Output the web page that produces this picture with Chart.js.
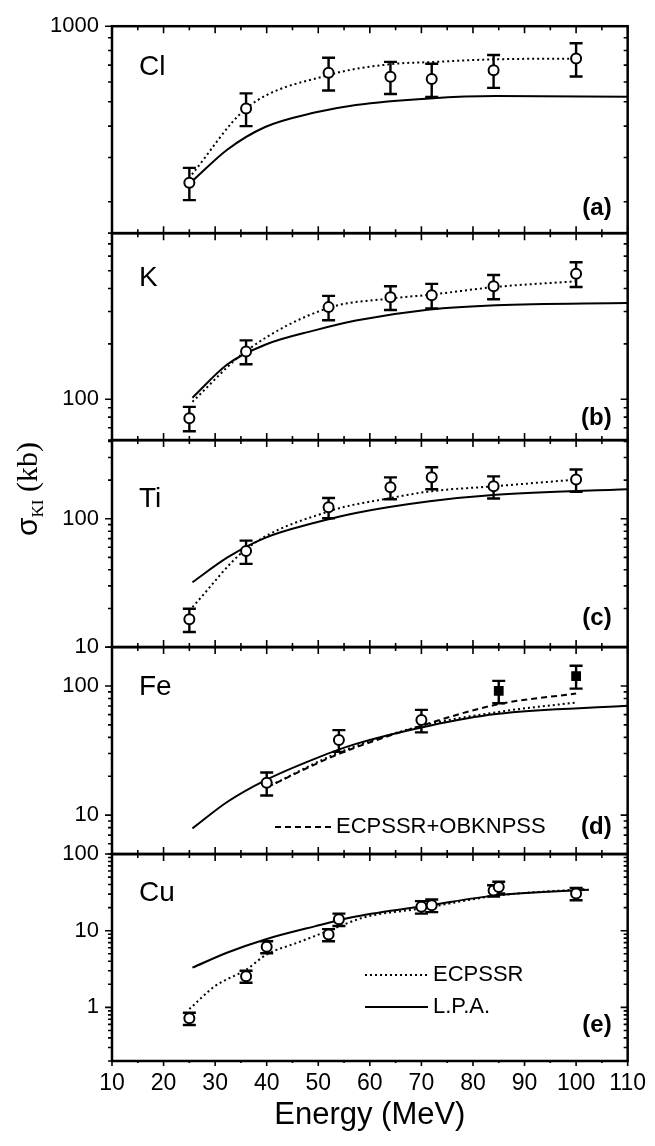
<!DOCTYPE html>
<html>
<head>
<meta charset="utf-8">
<title>K-shell ionization cross sections</title>
<script src="https://cdn.jsdelivr.net/npm/chart.js@4.4.1/dist/chart.umd.min.js"></script>
<style>
  html, body { margin: 0; padding: 0; background: #fff; }
  #wrap { width: 655px; height: 1146px; }
</style>
</head>
<body>
<div id="wrap"><canvas id="sigmaChart" width="655" height="1146"></canvas></div>
<script>
// x axis
const energyTicks = [10, 20, 30, 40, 50, 60, 70, 80, 90, 100, 110];

// (a) Cl
const clEnergy = [25, 36, 52, 64, 72, 84, 100];
const clSigma = [238, 470, 652, 629, 616, 668, 743];
const clErr = [35, 70, 97, 92, 93, 100, 112];
const clEcpssrE = [25.5, 36, 52, 64, 72, 84, 100];
const clEcpssr = [257, 470, 639, 706, 720, 738, 743];
const lpaEnergy = [25.6, 32.4, 39.7, 49.3, 57.3, 71.6, 84.5, 110];
const clLpa = [242, 323, 397, 453, 486, 516, 527, 524];

// (b) K
const kEnergy = [25, 36, 52, 64, 72, 84, 100];
const kSigma = [79, 182, 317, 359, 368, 412, 482];
const kErr = [12, 27, 48, 53, 56, 62, 74];
const kEcpssrE = [25.6, 36, 52, 64, 72, 84, 100];
const kEcpssr = [97, 183, 314, 353, 371, 407, 438];
const kLpa = [102, 155, 198, 237, 268, 308, 325, 334];

// (c) Ti
const tiEnergy = [25, 36, 52, 64, 72, 84, 100];
const tiSigma = [16.5, 56, 123, 176, 211, 179, 202];
const tiErr = [3.4, 11.5, 22, 34, 41, 35, 40];
const tiEcpssrE = [25.6, 36, 52, 64, 72, 84, 100];
const tiEcpssr = [20.5, 58, 114, 145, 164, 179, 202];
const tiLpa = [32, 50, 71, 93, 111, 137, 154, 170];

// (d) Fe
const feEnergy = [40, 54, 70];
const feSigma = [17.8, 38.2, 54.5];
const feErr = [3.6, 7.3, 10.8];
const feNewEnergy = [85, 100];
const feNewSigma = [91.5, 119.4];
const feNewErr = [18, 24];
const feTheoryE = [40, 54, 70, 85, 100];
const feEcpssr = [16.4, 30.5, 49, 63, 74.5];
const feObk = [16.4, 29.8, 49.3, 72.3, 87.4];
const feLpa = [7.9, 12.7, 18.6, 27.3, 35.6, 49.3, 60.6, 70.2];

// (e) Cu
const cuEnergy = [25, 36, 40, 52, 54, 70, 72, 84, 85, 100];
const cuSigma = [0.72, 2.55, 6.18, 8.9, 14.1, 20.5, 21.5, 33.5, 37.1, 30.5];
const cuErr = [0.13, 0.45, 1.1, 1.6, 2.6, 3.8, 4, 5.7, 6.5, 5.5];
const cuEcpssrE = [25, 30, 36, 40, 46, 52, 59, 70, 85, 102];
const cuEcpssr = [0.95, 1.9, 3.1, 4.9, 7, 10, 15, 19.5, 28.9, 35];
const cuLpaE = [25.6, 32.4, 39.7, 49.3, 57.3, 71.6, 84.5, 102.5];
const cuLpa = [3.3, 5.2, 7.7, 11.4, 15.3, 21.5, 28.9, 34.2];

const panels = [
    { id: 'ya', min: 150, max: 1000, name: 'Cl', tag: '(a)', nameDy: 41, tagDy: 25 },
    { id: 'yb', min: 60, max: 800, name: 'K', tag: '(b)', nameDy: 45, tagDy: 22 },
    { id: 'yc', min: 10, max: 410, name: 'Ti', tag: '(c)', nameDy: 59, tagDy: 29 },
    { id: 'yd', min: 5, max: 200, name: 'Fe', tag: '(d)', nameDy: 40, tagDy: 27 },
    { id: 'ye', min: 0.2, max: 100, name: 'Cu', tag: '(e)', nameDy: 39, tagDy: 36 }
];

function pts(xs, ys) {
    return xs.map((x, i) => ({ x: x, y: ys[i] }));
}

function expSet(axis, xs, ys, errs, square) {
    return {
        data: pts(xs, ys), errors: errs, yAxisID: axis, showLine: false,
        pointStyle: square ? 'rect' : 'circle',
        pointRadius: square ? 5.5 : 5,
        pointBackgroundColor: square ? '#000' : '#fff',
        pointBorderColor: '#000', pointBorderWidth: 2, order: 0
    };
}

function curveSet(axis, xs, ys, dash) {
    return {
        data: pts(xs, ys), yAxisID: axis, showLine: true, pointRadius: 0,
        borderColor: '#000', borderWidth: 2, borderDash: dash,
        cubicInterpolationMode: 'monotone', fill: false, order: 1
    };
}

const DOT = [2, 3];
const DASH = [6, 4];

const datasets = [
    expSet('ya', clEnergy, clSigma, clErr),
    curveSet('ya', clEcpssrE, clEcpssr, DOT),
    curveSet('ya', lpaEnergy, clLpa, []),
    expSet('yb', kEnergy, kSigma, kErr),
    curveSet('yb', kEcpssrE, kEcpssr, DOT),
    curveSet('yb', lpaEnergy, kLpa, []),
    expSet('yc', tiEnergy, tiSigma, tiErr),
    curveSet('yc', tiEcpssrE, tiEcpssr, DOT),
    curveSet('yc', lpaEnergy, tiLpa, []),
    expSet('yd', feEnergy, feSigma, feErr),
    expSet('yd', feNewEnergy, feNewSigma, feNewErr, true),
    curveSet('yd', feTheoryE, feEcpssr, DOT),
    curveSet('yd', feTheoryE, feObk, DASH),
    curveSet('yd', lpaEnergy, feLpa, []),
    expSet('ye', cuEnergy, cuSigma, cuErr),
    curveSet('ye', cuEcpssrE, cuEcpssr, DOT),
    curveSet('ye', cuLpaE, cuLpa, [])
];

function isDecade(v) {
    const l = Math.log10(v);
    return Math.abs(l - Math.round(l)) < 1e-6;
}

// Frames, ticks, error bars and panel texts
const panelDecor = {
    id: 'panelDecor',
    beforeDatasetDraw(chart, args) {
        const ds = chart.data.datasets[args.index];
        if (!ds.errors) return;
        const ys = chart.scales[ds.yAxisID];
        const ctx = chart.ctx;
        ctx.save();
        ctx.strokeStyle = '#000';
        ctx.lineWidth = 2.4;
        ds.data.forEach((d, i) => {
            const x = args.meta.data[i].x;
            const top = ys.getPixelForValue(d.y + ds.errors[i]);
            const bot = ys.getPixelForValue(d.y - ds.errors[i]);
            ctx.beginPath();
            ctx.moveTo(x, top); ctx.lineTo(x, bot);
            ctx.moveTo(x - 6.5, top); ctx.lineTo(x + 6.5, top);
            ctx.moveTo(x - 6.5, bot); ctx.lineTo(x + 6.5, bot);
            ctx.stroke();
        });
        ctx.restore();
    },
    afterDatasetsDraw(chart) {
        const ctx = chart.ctx;
        const area = chart.chartArea;
        const xs = chart.scales.x;
        ctx.save();
        ctx.strokeStyle = '#000';
        ctx.fillStyle = '#000';
        panels.forEach((p, n) => {
            const ys = chart.scales[p.id];
            const top = ys.top, bot = ys.bottom;
            ctx.lineWidth = 2.5;
            ctx.strokeRect(area.left, top, area.right - area.left, bot - top);
            ctx.lineWidth = 1.6;
            ctx.beginPath();
            for (let v = 10; v <= 110; v += 5) {
                const px = xs.getPixelForValue(v);
                const len = v % 10 === 0 ? 7 : 4;
                ctx.moveTo(px, top); ctx.lineTo(px, top + len);
                if (n === panels.length - 1) {
                    ctx.moveTo(px, bot); ctx.lineTo(px, bot + (len - 2));
                } else {
                    ctx.moveTo(px, bot); ctx.lineTo(px, bot - len);
                }
            }
            const k0 = Math.floor(Math.log10(p.min)), k1 = Math.ceil(Math.log10(p.max));
            for (let k = k0; k <= k1; k++) {
                for (let m = 1; m <= 9; m++) {
                    const v = m * Math.pow(10, k);
                    if (v < p.min * 0.999 || v > p.max * 1.001) continue;
                    const py = ys.getPixelForValue(v);
                    const len = m === 1 ? 7 : 4;
                    ctx.moveTo(area.left, py); ctx.lineTo(area.left - len, py);
                    ctx.moveTo(area.right, py); ctx.lineTo(area.right - len, py);
                }
            }
            ctx.stroke();

            ctx.textBaseline = 'middle';
            ctx.textAlign = 'left';
            ctx.font = '28px "Liberation Sans", Arial, sans-serif';
            ctx.fillText(p.name, area.left + 27, top + p.nameDy);
            ctx.textAlign = 'right';
            ctx.font = 'bold 24px "Liberation Sans", Arial, sans-serif';
            ctx.fillText(p.tag, area.right - 16, bot - p.tagDy);
        });

        // legends
        const yd = chart.scales.yd, ye = chart.scales.ye;
        ctx.lineWidth = 2;
        ctx.font = '22px "Liberation Sans", Arial, sans-serif';
        ctx.textAlign = 'left';
        const legendRows = [
            { y: yd.bottom - 27, x0: area.left + 163, x1: area.left + 219, dash: DASH, text: 'ECPSSR+OBKNPSS' },
            { y: ye.top + 121, x0: area.left + 253, x1: area.left + 316, dash: DOT, text: 'ECPSSR' },
            { y: ye.top + 153, x0: area.left + 253, x1: area.left + 316, dash: [], text: 'L.P.A.' }
        ];
        legendRows.forEach(r => {
            ctx.setLineDash(r.dash);
            ctx.beginPath();
            ctx.moveTo(r.x0, r.y); ctx.lineTo(r.x1, r.y);
            ctx.stroke();
            ctx.setLineDash([]);
            ctx.fillText(r.text, r.x1 + 5, r.y);
        });

        // y axis title: sigma_KI (kb)
        ctx.translate(37, 536);
        ctx.rotate(-Math.PI / 2);
        ctx.textBaseline = 'alphabetic';
        ctx.textAlign = 'left';
        ctx.font = '30px "Liberation Sans", Arial, sans-serif';
        ctx.fillText('σ', 0, 0);
        let w = ctx.measureText('σ').width;
        ctx.font = '17px "Liberation Serif", "Times New Roman", serif';
        ctx.fillText('KI', w, 6);
        w += ctx.measureText('KI').width;
        ctx.font = '30px "Liberation Serif", "Times New Roman", serif';
        ctx.fillText(' (kb)', w, 0);
        ctx.restore();
    }
};

Chart.defaults.font.family = '"Liberation Sans", Arial, sans-serif';
Chart.defaults.color = '#000';

const yScales = {};
panels.forEach((p, n) => {
    yScales[p.id] = {
        type: 'logarithmic', position: 'left', stack: 'panels', stackWeight: 1,
        weight: panels.length - n,
        min: p.min, max: p.max,
        grid: { display: false, drawTicks: false },
        border: { display: false },
        ticks: {
            autoSkip: false, padding: 13, font: { size: 22 },
            callback: v => isDecade(v) ? String(v) : ''
        },
        afterFit: s => { s.width = 112; }
    };
});

const sigmaChart = new Chart(document.getElementById('sigmaChart').getContext('2d'), {
    type: 'scatter',
    data: { datasets: datasets },
    options: {
        responsive: false,
        animation: false,
        events: [],
        layout: { padding: { top: 16, right: 22, bottom: 0, left: 0 } },
        plugins: { legend: { display: false }, tooltip: { enabled: false } },
        scales: Object.assign({
            x: {
                type: 'linear', position: 'bottom', min: 10, max: 110,
                afterBuildTicks: s => { s.ticks = energyTicks.map(v => ({ value: v })); },
                grid: { display: false, drawTicks: false },
                border: { display: false },
                ticks: { padding: 9, font: { size: 23 } },
                title: { display: true, text: 'Energy (MeV)', font: { size: 31 }, padding: { top: 0, bottom: 12 } },
                afterFit: s => { s.height = 85; }
            }
        }, yScales)
    },
    plugins: [panelDecor]
});
</script>
</body>
</html>
